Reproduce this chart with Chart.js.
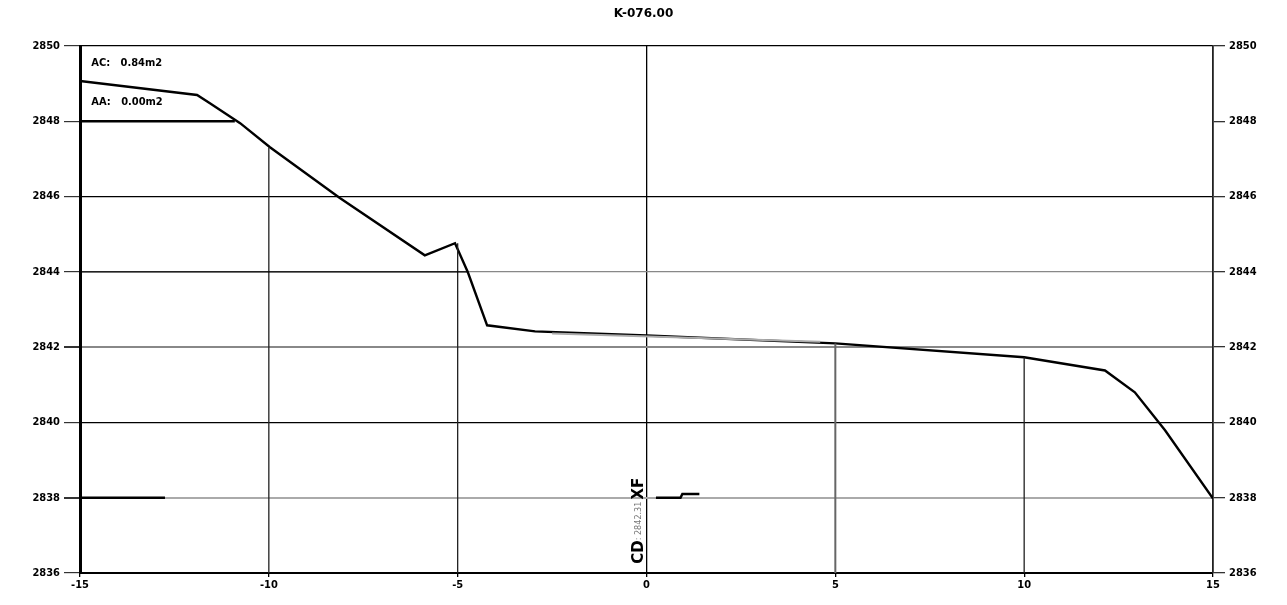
<!DOCTYPE html>
<html>
<head>
<meta charset="utf-8">
<script src="https://cdn.jsdelivr.net/npm/chart.js@4/dist/chart.umd.min.js"></script>
<style>
  html, body { margin: 0; padding: 0; background: #fff; }
  #wrap { width: 1287px; height: 605px; }
</style>
</head>
<body>
<div id="wrap"><canvas id="myChart"></canvas></div>
<script>
// section title and area notes
const titleText = "K-076.00"
const areaNotes = ["AC:   0.84m2", "AA:   0.00m2"]

// axis ticks
const xTicks = [-15, -10, -5, 0, 5, 10, 15]
const yTicks = [2836, 2838, 2840, 2842, 2844, 2846, 2848, 2850]

// ground profile (offset m, elevation m)
const groundX = [-15, -11.9, -11.56, -10.76, -9.97, -8.12, -5.87, -5.07, -4.73, -4.22, -2.95, 0, 5, 10, 12.14, 12.93, 13.73, 15]
const groundY = [2849.07, 2848.7, 2848.48, 2847.95, 2847.31, 2845.96, 2844.44, 2844.76, 2843.99, 2842.58, 2842.42, 2842.31, 2842.10, 2841.73, 2841.38, 2840.80, 2839.79, 2837.98]

// drop lines from the ground down to the base
const dropX = [-10, -5, 5, 10]
const dropTop = [2847.31, 2844.76, 2842.10, 2841.73]

// short design segments
const topStepX = [-15, -10.9]
const topStepY = [2848, 2848]
const baseLeftX = [-15, -12.75]
const baseLeftY = [2838, 2838]
const baseMidX = [0.25, 0.9, 0.95, 1.4]
const baseMidY = [2838, 2838, 2838.1, 2838.1]
const midGrayX = [-2.5, 4.6]
const midGrayY = [2842.36, 2842.14]
const leftBlackX = [-15, -4.73]
const leftBlackY = [2844, 2844]

// centre label
const centreLabel = ["CD", ": 2842.31", "XF"]

const pts = (xs, ys) => xs.map((x, i) => ({x: x, y: ys[i]}))
const font = {family: "'Liberation Sans Narrow', 'DejaVu Sans Condensed', sans-serif", size: 11, weight: "bold"}

function line(data, color, width) {
  return {data: data, showLine: true, borderColor: color, backgroundColor: color,
          borderWidth: width, pointRadius: 0, tension: 0, yAxisID: "y"}
}

const datasets = [
  line(pts(midGrayX, midGrayY), "#aaa", 2),
  line(pts(leftBlackX, leftBlackY), "#000", 1.2),
  line(pts(baseLeftX, baseLeftY), "#000", 2.5),
  line(pts(baseMidX, baseMidY), "#000", 2.5),
  line(pts(topStepX, topStepY), "#000", 2.5)
]
dropX.forEach((x, i) => {
  datasets.push(line([{x: x, y: dropTop[i]}, {x: x, y: 2836}], i == 2 ? "#666" : "#222", i == 2 ? 2 : 1.3))
})
datasets.push(line(pts(groundX, groundY), "#000", 2.4))

function gridColor(v) {
  if (v == 2850 || v == 2846 || v == 2840) return "#000"
  if (v == 2844 || v == 2842) return "#888"
  if (v == 2838) return "#aaa"
  return "rgba(0,0,0,0)"
}

// text notes drawn over the plot
const notesPlugin = {
  id: "notes",
  afterDatasetsDraw(chart) {
    const c = chart.ctx, xs = chart.scales.x, ys = chart.scales.y
    c.save()
    c.fillStyle = "#000"
    c.font = "bold 11px 'Liberation Sans Narrow', 'DejaVu Sans Condensed', sans-serif"
    c.textBaseline = "middle"
    c.fillText(areaNotes[0], xs.getPixelForValue(-14.7), ys.getPixelForValue(2849.55))
    c.fillText(areaNotes[1], xs.getPixelForValue(-14.7), ys.getPixelForValue(2848.5))
    // vertical label at the centre line
    c.translate(xs.getPixelForValue(-0.2), ys.getPixelForValue(2837.2))
    c.rotate(-Math.PI / 2)
    c.textAlign = "left"
    c.font = "bold 15px 'DejaVu Sans', sans-serif"
    c.fillText(centreLabel[0], -36, 0)
    let w = c.measureText(centreLabel[0]).width
    c.font = "9px 'DejaVu Sans Condensed', sans-serif"
    c.fillStyle = "#777"
    c.fillText(centreLabel[1], -36 + w, 0)
    let w2 = c.measureText(centreLabel[1]).width
    c.font = "bold 15px 'DejaVu Sans', sans-serif"
    c.fillStyle = "#000"
    c.fillText(centreLabel[2], -36 + w + w2 + 2, 0)
    c.restore()
  }
}

const chart = new Chart("myChart", {
  type: "scatter",
  data: {datasets: datasets},
  options: {
    responsive: true,
    maintainAspectRatio: false,
    animation: false,
    layout: {padding: 0},
    plugins: {
      legend: {display: false},
      tooltip: {enabled: false},
      title: {
        display: true,
        text: titleText,
        color: "#000",
        font: {family: "'DejaVu Sans', sans-serif", size: 12, weight: "bold"},
        padding: {top: 7, bottom: 24.6}
      }
    },
    scales: {
      x: {
        type: "linear", min: -15, max: 15,
        afterBuildTicks: s => { s.ticks = xTicks.map(v => ({value: v})) },
        afterFit: s => { s.height = 32 },
        ticks: {color: "#000", font: font, padding: 2, callback: v => String(v)},
        grid: {
          color: c => c.tick && c.tick.value == 0 ? "#000" : "rgba(0,0,0,0)",
          lineWidth: 1.3, tickLength: 4, tickColor: "#000"
        },
        border: {display: true, color: "#000", width: 2}
      },
      y: {
        type: "linear", position: "left", min: 2836, max: 2850,
        afterBuildTicks: s => { s.ticks = yTicks.map(v => ({value: v})) },
        afterFit: s => { s.width = 80 },
        ticks: {color: "#000", font: font, padding: 4, callback: v => String(v)},
        grid: {
          color: c => c.tick ? gridColor(c.tick.value) : "#000",
          lineWidth: c => c.tick && (c.tick.value == 2842 || c.tick.value == 2838) ? 2 : 1.2,
          tickLength: 16, tickColor: "#333"
        },
        border: {display: true, color: "#000", width: 3}
      },
      y2: {
        type: "linear", position: "right", min: 2836, max: 2850,
        afterBuildTicks: s => { s.ticks = yTicks.map(v => ({value: v})) },
        afterFit: s => { s.width = 74 },
        ticks: {color: "#000", font: font, padding: 4, callback: v => String(v)},
        grid: {drawOnChartArea: false, tickLength: 12, tickColor: "#333", lineWidth: 1.3},
        border: {display: true, color: "#222", width: 1.8}
      }
    }
  },
  plugins: [notesPlugin]
})
</script>
</body>
</html>
